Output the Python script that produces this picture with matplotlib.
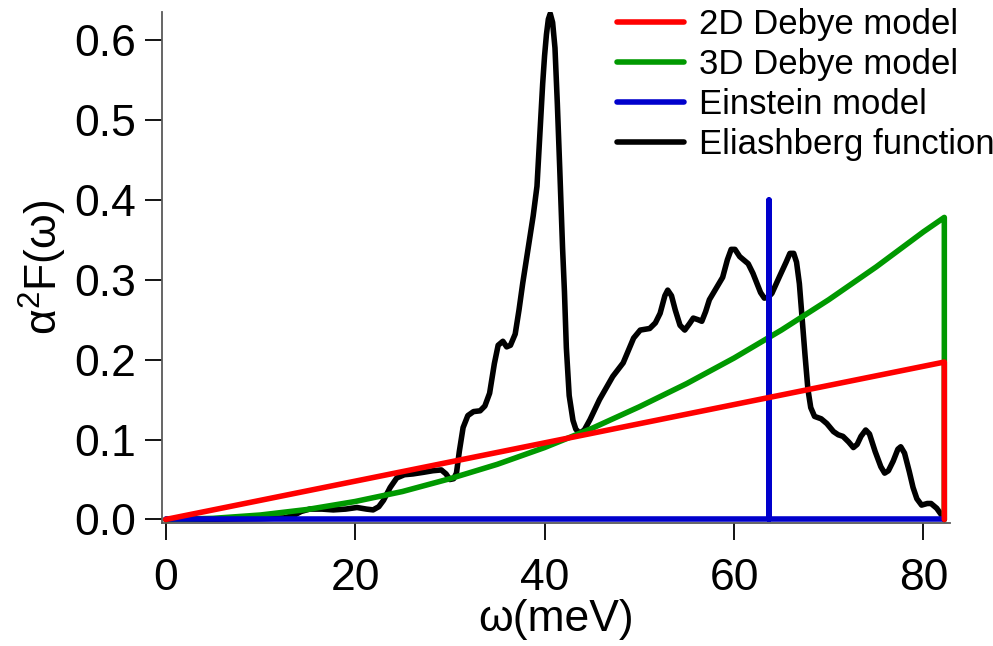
import numpy as np
import matplotlib
matplotlib.use('Agg')
from matplotlib import pyplot as plt

plt.rcParams['font.family'] = ['Liberation Sans', 'DejaVu Sans']
plt.rcParams['mathtext.fontset'] = 'custom'
plt.rcParams['mathtext.rm'] = 'Liberation Sans'
plt.rcParams['mathtext.it'] = 'Liberation Sans'

# Eliashberg function alpha^2 F(omega), omega in meV
w_eli = [0, 6, 10, 12.5, 13.5, 14.3, 15.2, 16.5, 17.7, 19.0, 20.2, 21.2, 21.9, 22.5,
         23.0, 23.7, 24.4, 25.2, 26.1, 27.2, 28.2, 29.1, 29.6, 30.0, 30.4, 30.7, 31.0,
         31.4, 31.9, 32.5, 33.2, 33.7, 34.2, 34.7, 35.1, 35.6, 36.0, 36.4, 36.9, 37.3,
         37.7, 38.4, 38.8, 39.2, 39.5, 39.8, 40.0, 40.2, 40.4, 40.6, 40.85, 41.1, 41.35,
         41.6, 41.9, 42.1, 42.3, 42.6, 43.0, 43.3, 43.7, 44.2, 44.8, 45.8, 47.2, 48.3,
         49.4, 50.1, 51.1, 51.7, 52.2, 52.7, 53.0, 53.4, 53.8, 54.3, 54.8, 55.3, 55.7,
         56.2, 56.6, 57.0, 57.4, 58.2, 58.8, 59.3, 59.7, 60.1, 60.6, 61.5, 62.0, 62.4,
         62.8, 63.2, 63.6, 64.0, 64.8, 65.5, 65.9, 66.3, 66.6, 66.9, 67.2, 67.5, 67.8,
         68.1, 68.5, 69.2, 69.8, 70.5, 71.0, 71.5, 72.1, 72.6, 73.0, 73.4, 73.9, 74.3,
         74.9, 75.5, 75.9, 76.3, 76.8, 77.3, 77.6, 78.0, 78.5, 78.9, 79.3, 79.8, 80.4,
         80.8, 81.4, 82.0, 82.2]
a2f_eli = [0, 0.0005, 0.001, 0.002, 0.005, 0.010, 0.013, 0.013, 0.012, 0.013, 0.015,
           0.013, 0.012, 0.016, 0.024, 0.040, 0.052, 0.056, 0.057, 0.059, 0.061, 0.062,
           0.057, 0.050, 0.051, 0.058, 0.085, 0.115, 0.130, 0.135, 0.136, 0.142, 0.158,
           0.195, 0.218, 0.223, 0.216, 0.218, 0.232, 0.262, 0.296, 0.350, 0.380, 0.417,
           0.480, 0.545, 0.580, 0.607, 0.626, 0.633, 0.622, 0.590, 0.520, 0.440, 0.340,
           0.285, 0.215, 0.155, 0.124, 0.113, 0.108, 0.112, 0.125, 0.150, 0.179, 0.196,
           0.227, 0.237, 0.239, 0.246, 0.258, 0.280, 0.287, 0.280, 0.262, 0.243, 0.237,
           0.245, 0.252, 0.250, 0.248, 0.260, 0.275, 0.291, 0.303, 0.325, 0.338, 0.338,
           0.329, 0.320, 0.308, 0.296, 0.284, 0.277, 0.278, 0.283, 0.304, 0.322, 0.333,
           0.333, 0.322, 0.295, 0.250, 0.205, 0.163, 0.140, 0.129, 0.126, 0.120, 0.110,
           0.106, 0.104, 0.097, 0.090, 0.094, 0.104, 0.112, 0.107, 0.085, 0.066, 0.058,
           0.061, 0.073, 0.088, 0.091, 0.083, 0.060, 0.040, 0.026, 0.018, 0.020, 0.020,
           0.014, 0.004, 0.0]

# 2D Debye model (linear up to the Debye energy)
w_2d = [0, 82.2, 82.2]
a2f_2d = [0, 0.197, 0]

# 3D Debye model (quadratic up to the Debye energy)
w_3d = [0, 5, 10, 15, 20, 25, 30, 35, 40, 45, 50, 55, 60, 65, 70, 75, 80, 82.2, 82.2]
a2f_3d = [0, 0.0014, 0.0056, 0.0126, 0.0225, 0.035, 0.051, 0.069, 0.090, 0.114,
          0.141, 0.170, 0.202, 0.237, 0.275, 0.316, 0.360, 0.378, 0]

# Einstein model (single mode)
w_ein = [0, 63.7, 63.7, 63.7, 82.2]
a2f_ein = [0, 0, 0.40, 0, 0]

fig = plt.figure(figsize=(9.93, 6.46), dpi=100)
ax = fig.add_axes([0.1628, 0.1904, 0.7939, 0.791])

lw = 4.0
style = dict(lw=lw, solid_joinstyle='round', solid_capstyle='round')
ax.plot(w_2d, a2f_2d, color='#ff0000', zorder=5, label='2D Debye model', **style)
ax.plot(w_3d, a2f_3d, color='#009900', zorder=3, label='3D Debye model', **style)
ax.plot(w_ein, a2f_ein, color='#0000cc', zorder=4, label='Einstein model', **style)
ax.plot(w_eli, a2f_eli, color='black', zorder=2, label='Eliashberg function', **style)

ax.set_xlim(-0.42, 82.8)
ax.set_ylim(-0.0044, 0.635)
ax.set_xticks([0, 20, 40, 60, 80])
ax.set_yticks(np.arange(0, 0.61, 0.1))
ax.set_yticklabels(['0.0', '0.1', '0.2', '0.3', '0.4', '0.5', '0.6'])

for side in ['top', 'right']:
    ax.spines[side].set_visible(False)
for side in ['left', 'bottom']:
    ax.spines[side].set_color('0.35')
    ax.spines[side].set_linewidth(1.3)

ax.tick_params(axis='both', labelsize=32, length=12.5, width=1.3, color='black')
ax.tick_params(axis='x', pad=13)
ax.tick_params(axis='y', pad=6)

ax.set_xlabel('ω(meV)', fontsize=32, labelpad=0)
ax.set_ylabel(r'$\mathrm{α^2F(ω)}$', fontsize=32, labelpad=4)

fig.legend(loc='upper left', bbox_to_anchor=(0.6213, 0.987), frameon=False, fontsize=25,
           borderpad=0, borderaxespad=0, handlelength=1.93, handletextpad=0.43,
           labelspacing=0.2)

plt.savefig('out.png', dpi=100)
